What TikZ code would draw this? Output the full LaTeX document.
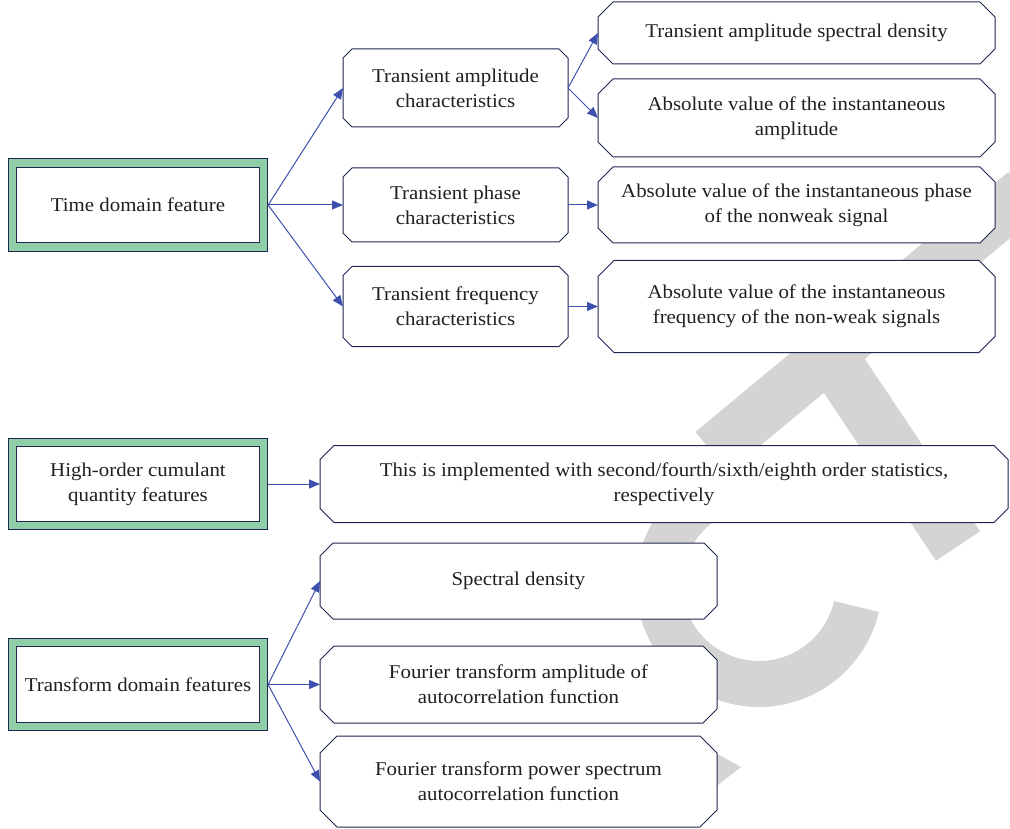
\documentclass[tikz,border=0pt]{standalone}
\usepackage{fontspec}
\setmainfont{Liberation Serif}[FakeStretch=1.07]
\usetikzlibrary{arrows.meta}
\definecolor{navy}{RGB}{30,38,82}
\definecolor{arrowblue}{RGB}{62,80,175}
\definecolor{boxgreen}{RGB}{143,206,166}
\definecolor{wmgray}{RGB}{212,212,212}
\definecolor{inkblack}{RGB}{35,31,32}
\newcommand\octbox[2]{%
  \draw[navy,line width=1pt,fill=white]
    ([xshift=#2]#1.north west) -- ([xshift=-#2]#1.north east)
    -- ([yshift=-#2]#1.north east) -- ([yshift=#2]#1.south east)
    -- ([xshift=-#2]#1.south east) -- ([xshift=#2]#1.south west)
    -- ([yshift=#2]#1.south west) -- ([yshift=-#2]#1.north west) -- cycle;}
\tikzset{
  txt/.style={font=\fontsize{19.5}{25}\selectfont, align=center, text=inkblack},
  greenbox/.style={txt, draw=navy, line width=0.9pt, double=boxgreen,
     double distance=7.4pt, fill=white, minimum width=251pt, outer sep=4.6pt,
     inner sep=0pt},
  octnode/.style={txt, inner sep=0pt, outer sep=0pt},
  arr/.style={draw=arrowblue, line width=1pt, -{Triangle[length=11pt,width=9pt]}},
  wm/.style={draw=wmgray, line cap=butt}
}
\begin{document}
\begin{tikzpicture}[x=1pt,y=-1pt]
\useasboundingbox (0,0) rectangle (1010,829);
% watermark
\draw[wm, line width=46pt] (759,584) ++(247:100) arc[start angle=247, end angle=13, radius=100];
\draw[wm, line width=52pt] (712,452) -- (1025,192);
\draw[wm, line width=53pt] (835,362) -- (958,546);
\fill[wmgray] (714,752) -- (741,767) -- (714,788) -- cycle;
% left green boxes
\node[greenbox, minimum height=84pt] (td) at (138,205) {Time domain feature};
\node[greenbox, minimum height=83pt] (ho) at (138,484) {High-order cumulant\\quantity features};
\node[greenbox, minimum height=84pt] (tr) at (138,684.5) {Transform domain features};
% middle column
\node[octnode, minimum width=225pt, minimum height=78pt] (ta) at (455.5,88) {};
\node[octnode, minimum width=225pt, minimum height=74pt] (tp) at (455.5,205) {};
\node[octnode, minimum width=225pt, minimum height=80pt] (tf) at (455.5,306.5) {};
% right column
\node[octnode, minimum width=397pt, minimum height=62pt] (r1) at (796.5,33) {};
\node[octnode, minimum width=397pt, minimum height=78pt] (r2) at (796.5,118) {};
\node[octnode, minimum width=397pt, minimum height=76pt] (r3) at (796.5,205) {};
\node[octnode, minimum width=397pt, minimum height=92pt] (r4) at (796.5,306.5) {};
% lower
\node[octnode, minimum width=688pt, minimum height=77pt] (hr) at (664,484) {};
\node[octnode, minimum width=397pt, minimum height=76pt] (sd) at (518.5,581) {};
\node[octnode, minimum width=397pt, minimum height=77pt] (fa) at (518.5,684.5) {};
\node[octnode, minimum width=397pt, minimum height=91pt] (fp) at (518.5,781.5) {};
\octbox{ta}{9pt}\octbox{tp}{9pt}\octbox{tf}{9pt}
\octbox{r1}{15pt}\octbox{r2}{15pt}\octbox{r3}{15pt}\octbox{r4}{16pt}
\octbox{hr}{14pt}\octbox{sd}{13pt}\octbox{fa}{14pt}\octbox{fp}{17pt}
% texts
\node[txt] at (ta) {Transient amplitude\\characteristics};
\node[txt] at (tp) {Transient phase\\characteristics};
\node[txt] at (tf) {Transient frequency\\characteristics};
\node[txt] at (r1) {Transient amplitude spectral density};
\node[txt] at (r2) {Absolute value of the instantaneous\\amplitude};
\node[txt] at (r3) {Absolute value of the instantaneous phase\\of the nonweak signal};
\node[txt] at (r4) {Absolute value of the instantaneous\\frequency of the non-weak signals};
\node[txt] at (hr) {This is implemented with second/fourth/sixth/eighth order statistics,\\respectively};
\node[txt] at (sd) {Spectral density};
\node[txt] at (fa) {Fourier transform amplitude of\\autocorrelation function};
\node[txt] at (fp) {Fourier transform power spectrum\\autocorrelation function};
% connectors
\draw[arr] (td.east) -- (ta.west);
\draw[arr] (td.east) -- (tp.west);
\draw[arr] (td.east) -- (tf.west);
\draw[arr] (ta.east) -- (r1.west);
\draw[arr] (ta.east) -- (r2.west);
\draw[arr] (tp.east) -- (r3.west);
\draw[arr] (tf.east) -- (r4.west);
\draw[arr] (ho.east) -- (hr.west);
\draw[arr] (tr.east) -- (sd.west);
\draw[arr] (tr.east) -- (fa.west);
\draw[arr] (tr.east) -- (fp.west);
\end{tikzpicture}
\end{document}
